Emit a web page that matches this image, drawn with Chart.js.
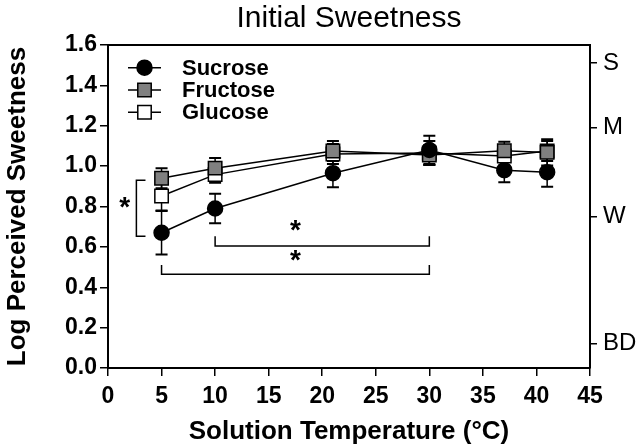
<!DOCTYPE html>
<html>
<head>
<meta charset="utf-8">
<script src="https://cdn.jsdelivr.net/npm/chart.js@4/dist/chart.umd.min.js"></script>
<style>
  html, body { margin: 0; padding: 0; background: #fff; }
</style>
</head>
<body>
<canvas id="chart_canvas" width="640" height="447"></canvas>
<script>
"use strict";
(function() {
  // temperatures (deg C) and mean log sweetness +/- error
  const temps = [5, 10, 21, 30, 37, 41];
  const sucrose = [0.67, 0.79, 0.965, 1.08, 0.98, 0.97];
  const sucrose_err = [0.108, 0.073, 0.07, 0.07, 0.06, 0.072];
  const fructose = [0.94, 0.99, 1.075, 1.055, 1.076, 1.068];
  const fructose_err = [0.05, 0.05, 0.05, 0.05, 0.045, 0.065];
  const glucose = [0.852, 0.958, 1.06, 1.065, 1.05, 1.075];
  const glucose_err = [0.072, 0.04, 0.05, 0.06, 0.05, 0.05];

  // right-hand category scale (S = strong, M = moderate, W = weak, BD = barely detectable)
  const right_ticks = [1.51, 1.19, 0.75, 0.12];
  const right_labels = ["S", "M", "W", "BD"];

  const title_text = "Initial Sweetness";

  // significance brackets in data units
  const side_bracket = { x: 2.65, arm: 3.5, y1: 0.653, y2: 0.93, star_x: 1.57, star_y: 0.78 };
  const span_brackets = [
    { x1: 10, x2: 30, y: 0.604, top: 0.653, star_x: 17.5, star_y: 0.668 },
    { x1: 5, x2: 30, y: 0.465, top: 0.51, star_x: 17.5, star_y: 0.52 }
  ];

  const FONT = "'Liberation Sans', Arial, sans-serif";
  Chart.defaults.font.family = FONT;
  Chart.defaults.color = "#000";

  function pts(ys) {
    return temps.map((t, i) => ({ x: t, y: ys[i] }));
  }

  const error_bars = {
    id: "error_bars",
    beforeDatasetsDraw(chart) {
      const ctx = chart.ctx, xs = chart.scales.x, ys = chart.scales.y;
      ctx.save();
      ctx.strokeStyle = "#000";
      for (let i = chart.data.datasets.length - 1; i >= 0; i--) {
        const ds = chart.data.datasets[i];
        ds.data.forEach((p, j) => {
          const e = ds.err[j];
          const x = xs.getPixelForValue(p.x);
          const y1 = ys.getPixelForValue(p.y + e);
          const y2 = ys.getPixelForValue(p.y - e);
          ctx.lineWidth = 1.5;
          ctx.beginPath();
          ctx.moveTo(x, y1);
          ctx.lineTo(x, y2);
          ctx.stroke();
          ctx.lineWidth = 2;
          ctx.beginPath();
          ctx.moveTo(x - 6, y1);
          ctx.lineTo(x + 6, y1);
          ctx.moveTo(x - 6, y2);
          ctx.lineTo(x + 6, y2);
          ctx.stroke();
        });
      }
      ctx.restore();
    }
  };

  function star(ctx, x, y) {
    ctx.font = "bold 28px " + FONT;
    ctx.textAlign = "center";
    ctx.textBaseline = "alphabetic";
    const m = ctx.measureText("*");
    const h = m.actualBoundingBoxAscent - m.actualBoundingBoxDescent;
    ctx.fillText("*", x, y + m.actualBoundingBoxAscent - h / 2);
  }

  const extras = {
    id: "extras",
    afterDatasetsDraw(chart) {
      const ctx = chart.ctx, xs = chart.scales.x, ys = chart.scales.y;
      const area = chart.chartArea;
      ctx.save();
      ctx.strokeStyle = "#000";
      ctx.fillStyle = "#000";
      ctx.lineWidth = 1.5;

      // side bracket
      const bx = xs.getPixelForValue(side_bracket.x);
      const ba = xs.getPixelForValue(side_bracket.arm);
      const b1 = ys.getPixelForValue(side_bracket.y1);
      const b2 = ys.getPixelForValue(side_bracket.y2);
      ctx.beginPath();
      ctx.moveTo(ba, b2);
      ctx.lineTo(bx, b2);
      ctx.lineTo(bx, b1);
      ctx.lineTo(ba, b1);
      ctx.stroke();
      star(ctx, xs.getPixelForValue(side_bracket.star_x), ys.getPixelForValue(side_bracket.star_y));

      span_brackets.forEach(b => {
        const x1 = xs.getPixelForValue(b.x1), x2 = xs.getPixelForValue(b.x2);
        const y = ys.getPixelForValue(b.y), t = ys.getPixelForValue(b.top);
        ctx.beginPath();
        ctx.moveTo(x1, t);
        ctx.lineTo(x1, y);
        ctx.lineTo(x2, y);
        ctx.lineTo(x2, t);
        ctx.stroke();
        star(ctx, xs.getPixelForValue(b.star_x), ys.getPixelForValue(b.star_y));
      });

      // legend inside the plot
      chart.data.datasets.forEach((ds, i) => {
        const y = area.top + 22.7 + i * 22.3;
        const x0 = area.left + 20, x1 = area.left + 53, cx = area.left + 36.5;
        ctx.lineWidth = 1.5;
        ctx.beginPath();
        ctx.moveTo(x0, y);
        ctx.lineTo(x1, y);
        ctx.stroke();
        ctx.fillStyle = ds.pointBackgroundColor;
        ctx.strokeStyle = "#000";
        ctx.lineWidth = ds.pointBorderWidth;
        Chart.helpers.drawPoint(ctx, {
          pointStyle: ds.pointStyle, radius: ds.pointRadius, rotation: 0, borderWidth: ds.pointBorderWidth
        }, cx, y);
        ctx.fillStyle = "#000";
        ctx.font = "bold 22px " + FONT;
        ctx.textAlign = "left";
        ctx.textBaseline = "middle";
        ctx.fillText(ds.label, area.left + 74, y + 1);
      });

      // top frame line
      ctx.lineWidth = 2;
      ctx.beginPath();
      ctx.moveTo(area.left, area.top);
      ctx.lineTo(area.right, area.top);
      ctx.stroke();

      // title centred over the plot area
      ctx.font = "30px " + FONT;
      ctx.textAlign = "center";
      ctx.textBaseline = "middle";
      ctx.fillText(title_text, (area.left + area.right) / 2, 19);
      ctx.restore();
    }
  };

  function series(label, ys, err, style, radius, fill) {
    return {
      label: label,
      data: pts(ys),
      err: err,
      borderColor: "#000",
      borderWidth: 1.5,
      pointStyle: style,
      pointRadius: radius,
      pointHoverRadius: radius,
      pointBackgroundColor: fill,
      pointBorderColor: "#000",
      pointBorderWidth: 1.5,
      showLine: true,
      tension: 0
    };
  }

  const chart_canvas = document.getElementById("chart_canvas");
  new Chart(chart_canvas, {
    type: "scatter",
    data: {
      datasets: [
        series("Sucrose", sucrose, sucrose_err, "circle", 7.5, "#000"),
        series("Fructose", fructose, fructose_err, "rect", 9.5, "#808080"),
        series("Glucose", glucose, glucose_err, "rect", 9.5, "#fff")
      ]
    },
    options: {
      responsive: false,
      animation: false,
      layout: { padding: { top: 45, left: 0, right: 0, bottom: 0 } },
      plugins: {
        legend: { display: false },
        tooltip: { enabled: false },
        title: { display: false }
      },
      scales: {
        x: {
          type: "linear",
          min: 0,
          max: 45,
          afterFit: s => { s.height = 79; },
          ticks: { stepSize: 5, padding: 7, color: "#000", font: { size: 23, weight: "bold" } },
          grid: { drawOnChartArea: false, drawTicks: true, tickLength: 8, color: "#000", lineWidth: 1.5 },
          border: { display: true, color: "#000", width: 2 },
          title: {
            display: true,
            text: "Solution Temperature (°C)",
            color: "#000",
            font: { size: 26, weight: "bold", lineHeight: 1 },
            padding: { top: 0, bottom: 2 }
          }
        },
        y: {
          type: "linear",
          min: 0,
          max: 1.6,
          afterFit: s => { s.width = 108; },
          ticks: {
            stepSize: 0.1,
            padding: 3,
            color: "#000",
            font: { size: 23, weight: "bold" },
            callback: v => (Math.round(v * 10) % 2 === 0 ? v.toFixed(1) : "")
          },
          grid: { drawOnChartArea: false, drawTicks: true, tickLength: 8, color: "#000", lineWidth: 1.5 },
          border: { display: true, color: "#000", width: 2 },
          title: {
            display: true,
            text: "Log Perceived Sweetness",
            color: "#000",
            font: { size: 26, weight: "bold", lineHeight: 1 },
            padding: { top: 5, bottom: 0 }
          }
        },
        y2: {
          type: "linear",
          position: "right",
          min: 0,
          max: 1.6,
          afterFit: s => { s.width = 50; },
          afterBuildTicks: s => { s.ticks = right_ticks.map(v => ({ value: v })); },
          ticks: {
            padding: 6,
            color: "#000",
            font: { size: 24, weight: "normal" },
            callback: v => right_labels[right_ticks.indexOf(v)]
          },
          grid: { drawOnChartArea: false, drawTicks: true, tickLength: 7, color: "#000", lineWidth: 1.5 },
          border: { display: true, color: "#000", width: 2 }
        }
      }
    },
    plugins: [error_bars, extras]
  });
})();
</script>
</body>
</html>
